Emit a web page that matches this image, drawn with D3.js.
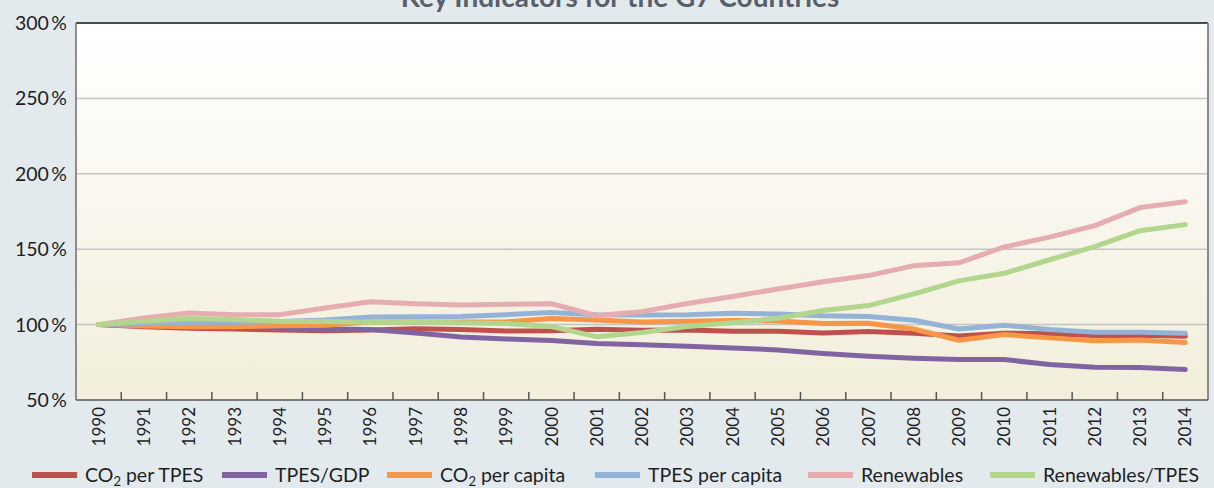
<!DOCTYPE html>
<html>
<head>
<meta charset="utf-8">
<script src="https://cdn.jsdelivr.net/npm/d3@7"></script>
<style>
  html, body { margin: 0; padding: 0; background: #e3eaee; }
  svg { display: block; font-family: Lato, "Open Sans", sans-serif; }
</style>
</head>
<body>
<svg id="chart" width="1214" height="488"></svg>
<script>
// ── Data (index, 1990 = 100 %) ──────────────────────────────────
const years = d3.range(1990, 2015);
const yTicks = [50, 100, 150, 200, 250, 300];

const co2PerTpes   = [100, 98.5, 97.5, 97, 96.5, 96, 96.5, 97.3, 96.7, 95.8, 96, 96.9, 96.2, 96.5, 95.6, 95.6, 94.5, 95.4, 94.2, 92.4, 94.3, 94, 92.8, 93, 92.3];
const tpesPerGdp   = [100, 99.6, 99.2, 98.6, 97.8, 97, 96.7, 94.5, 91.8, 90.5, 89.4, 87.4, 86.7, 85.6, 84.5, 83.2, 80.8, 79, 77.7, 76.8, 76.8, 73.5, 71.7, 71.6, 70.2];
const co2PerCapita = [100, 99, 98.5, 98.6, 99.2, 99.6, 101.8, 101.8, 101.8, 101.8, 104, 103.1, 101.8, 102.2, 102.7, 102.4, 100.7, 100.9, 97.1, 89.6, 93.4, 91.2, 89.3, 89.8, 88.1];
const tpesPerCap   = [100, 100.6, 101.5, 101.5, 102, 103, 105.1, 105.2, 105.3, 106.6, 108, 106.5, 106.4, 106.5, 107.6, 107.1, 105.8, 105.3, 102.9, 97.1, 99.6, 96.7, 94.9, 94.9, 94.2];
const renewables   = [100, 104.4, 107.7, 106.6, 106.6, 111, 115.2, 113.8, 113, 113.5, 113.8, 106, 108.6, 114, 118.6, 123.6, 128.4, 132.5, 139, 141, 151.5, 158, 165.6, 177.6, 181.5];
const renewPerTpes = [100, 102.2, 104, 103.3, 102.2, 102.1, 101.6, 101.5, 101.2, 100.7, 98.7, 92, 94.7, 98.7, 101.2, 104.2, 109.3, 112.6, 120.3, 129, 134, 143, 151.7, 162.3, 166.3];

const seriesNames  = ["CO2 per TPES", "TPES/GDP", "CO2 per capita", "TPES per capita", "Renewables", "Renewables/TPES"];
const seriesValues = [co2PerTpes, tpesPerGdp, co2PerCapita, tpesPerCap, renewables, renewPerTpes];
const seriesColors = ["#c0504d", "#8064a2", "#f79646", "#95b3d7", "#e6adb1", "#b3d68f"];

// ── Layout ──────────────────────────────────────────────────────
const W = 1214, H = 488;
const M = { top: 23, right: 6, bottom: 88, left: 76 };

const svg = d3.select("#chart");

const x = d3.scaleBand().domain(years).range([M.left, W - M.right]).padding(0);
const y = d3.scaleLinear().domain([50, 300]).range([H - M.bottom, M.top]);

// plot background gradient
const defs = svg.append("defs");
const grad = defs.append("linearGradient")
  .attr("id", "plotBg").attr("x1", 0).attr("y1", 0).attr("x2", 0).attr("y2", 1);
grad.append("stop").attr("offset", "0%").attr("stop-color", "#ffffff");
grad.append("stop").attr("offset", "100%").attr("stop-color", "#f2eedb");

svg.append("rect")
  .attr("x", M.left).attr("y", M.top)
  .attr("width", W - M.right - M.left).attr("height", y(50) - y(300))
  .attr("fill", "url(#plotBg)");

// title (top part falls outside the picture, as in the original)
svg.append("text")
  .attr("x", 620).attr("y", 7)
  .attr("text-anchor", "middle")
  .attr("font-size", 28).attr("font-weight", "bold")
  .attr("fill", "#5b5f6b")
  .text("Key Indicators for the G7 Countries");

// gridlines
svg.append("g")
  .selectAll("line")
  .data(yTicks.filter((t) => t > 50 && t < 300))
  .join("line")
  .attr("x1", M.left).attr("x2", W - M.right)
  .attr("y1", (d) => y(d)).attr("y2", (d) => y(d))
  .attr("stroke", "#c4c4c2").attr("stroke-width", 1.5);

// frame
svg.append("line")
  .attr("x1", M.left).attr("x2", W - M.right)
  .attr("y1", y(300)).attr("y2", y(300))
  .attr("stroke", "#111").attr("stroke-width", 1.5);
svg.append("line")
  .attr("x1", W - M.right).attr("x2", W - M.right)
  .attr("y1", y(300)).attr("y2", y(50))
  .attr("stroke", "#8a8a8a").attr("stroke-width", 2);
svg.append("line")
  .attr("x1", M.left).attr("x2", M.left)
  .attr("y1", y(300)).attr("y2", y(50))
  .attr("stroke", "#6b6b6b").attr("stroke-width", 1.5);

// y axis labels
svg.append("g")
  .selectAll("text")
  .data(yTicks)
  .join("text")
  .attr("x", 67).attr("y", (d) => y(d))
  .attr("dy", "0.36em")
  .attr("text-anchor", "end")
  .attr("font-size", 19.5)
  .attr("fill", "#1e1e1e")
  .text((d) => d + "\u2009%");

// x axis: line + ticks at band boundaries
const xAxis = svg.append("g");
xAxis.append("line")
  .attr("x1", M.left).attr("x2", W - M.right)
  .attr("y1", y(50)).attr("y2", y(50))
  .attr("stroke", "#555").attr("stroke-width", 1.5);
xAxis.selectAll("line.tick")
  .data(years.slice(1))
  .join("line")
  .attr("class", "tick")
  .attr("x1", (d) => x(d)).attr("x2", (d) => x(d))
  .attr("y1", y(50)).attr("y2", y(50) - 8)
  .attr("stroke", "#555").attr("stroke-width", 1.5);
xAxis.selectAll("text")
  .data(years)
  .join("text")
  .attr("transform", (d) => `translate(${x(d) + x.bandwidth() / 2},${y(50) + 7}) rotate(-90)`)
  .attr("dy", "0.36em")
  .attr("text-anchor", "end")
  .attr("font-size", 17)
  .attr("fill", "#1e1e1e")
  .text((d) => d);

// series lines
const line = d3.line()
  .x((d, i) => x(years[i]) + x.bandwidth() / 2)
  .y((d) => y(d));

svg.append("g")
  .selectAll("path")
  .data(seriesValues)
  .join("path")
  .attr("d", (d) => line(d))
  .attr("fill", "none")
  .attr("stroke", (d, i) => seriesColors[i])
  .attr("stroke-width", 5)
  .attr("stroke-linejoin", "round")
  .attr("stroke-linecap", "round");

// legend
const legendX = [32, 222, 387, 595, 808, 990];
const lg = svg.append("g")
  .selectAll("g")
  .data(seriesNames)
  .join("g")
  .attr("transform", (d, i) => `translate(${legendX[i]},475)`);
lg.append("line")
  .attr("x1", 0).attr("x2", 45)
  .attr("stroke", (d, i) => seriesColors[i])
  .attr("stroke-width", 6);
lg.append("text")
  .attr("x", 53).attr("dy", "0.36em")
  .attr("font-size", 19.5)
  .attr("fill", "#1e1e1e")
  .each(function(d) {
    const el = d3.select(this);
    if (d.startsWith("CO2")) {
      el.append("tspan").text("CO");
      el.append("tspan").attr("font-size", 13).attr("dy", 4).text("2");
      el.append("tspan").attr("dy", -4).text(d.slice(3));
    } else {
      el.text(d);
    }
  });
</script>
</body>
</html>
